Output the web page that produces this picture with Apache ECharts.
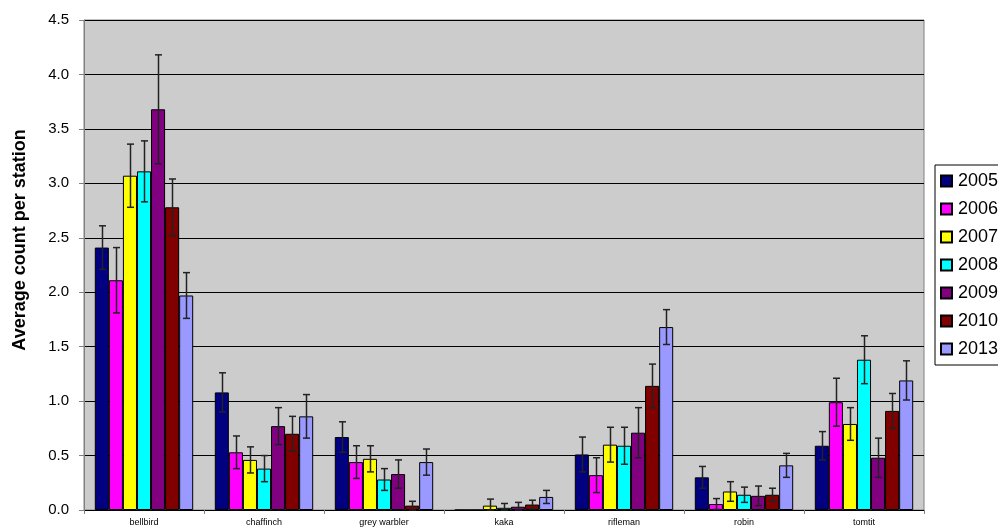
<!DOCTYPE html>
<html>
<head>
<meta charset="utf-8">
<script src="https://cdn.jsdelivr.net/npm/echarts@6/dist/echarts.min.js"></script>
<style>
  html, body { margin: 0; padding: 0; background: #fff; }
  #chart { width: 998px; height: 532px; }
</style>
</head>
<body>
<div id="chart"></div>
<script>
var species = ["bellbird", "chaffinch", "grey warbler", "kaka", "rifleman", "robin", "tomtit"];
var years = ["2005", "2006", "2007", "2008", "2009", "2010", "2013"];
var colors = ["#000080", "#FF00FF", "#FFFF00", "#00FFFF", "#800080", "#800000", "#9999FF"];

// mean count per station, one array per year (order follows species)
var y2005 = [2.41, 1.08, 0.67, 0.00, 0.51, 0.30, 0.59];
var y2006 = [2.11, 0.53, 0.44, 0.00, 0.32, 0.055, 0.99];
var y2007 = [3.07, 0.46, 0.47, 0.04, 0.60, 0.17, 0.79];
var y2008 = [3.11, 0.38, 0.28, 0.02, 0.59, 0.14, 1.38];
var y2009 = [3.68, 0.77, 0.33, 0.03, 0.71, 0.13, 0.48];
var y2010 = [2.78, 0.70, 0.04, 0.05, 1.14, 0.14, 0.91];
var y2013 = [1.97, 0.86, 0.44, 0.12, 1.68, 0.41, 1.19];

// error bar half-widths
var e2005 = [0.20, 0.18, 0.14, 0.00, 0.16, 0.10, 0.13];
var e2006 = [0.30, 0.15, 0.15, 0.00, 0.16, 0.05, 0.22];
var e2007 = [0.29, 0.12, 0.12, 0.06, 0.16, 0.09, 0.15];
var e2008 = [0.28, 0.12, 0.10, 0.04, 0.17, 0.07, 0.22];
var e2009 = [0.50, 0.17, 0.13, 0.04, 0.23, 0.09, 0.18];
var e2010 = [0.26, 0.16, 0.04, 0.04, 0.20, 0.06, 0.16];
var e2013 = [0.21, 0.20, 0.12, 0.06, 0.16, 0.11, 0.18];

var yTicks = ["0.0", "0.5", "1.0", "1.5", "2.0", "2.5", "3.0", "3.5", "4.0", "4.5"];

var means = [y2005, y2006, y2007, y2008, y2009, y2010, y2013];
var errs = [e2005, e2006, e2007, e2008, e2009, e2010, e2013];

var gapRatio = 0.18;
var errData = [];
means.forEach(function (arr, yi) {
  arr.forEach(function (v, ci) {
    errData.push([ci, yi, v, errs[yi][ci]]);
  });
});

var series = years.map(function (y, i) {
  return {
    name: y,
    type: "bar",
    data: means[i],
    barGap: "0%",
    barCategoryGap: gapRatio * 100 + "%",
    itemStyle: { color: colors[i], borderColor: "#000", borderWidth: 1 },
  };
});

series.push({
  name: "errors",
  type: "custom",
  data: errData,
  z: 10,
  renderItem: function (params, api) {
    var ci = api.value(0);
    var yi = api.value(1);
    var v = api.value(2);
    var e = api.value(3);
    if (e <= 0) return;
    var band = api.size([1, 0])[0];
    var groupW = band * (1 - gapRatio);
    var barW = groupW / years.length;
    var center = api.coord([ci, v]);
    var x = Math.round(center[0] - groupW / 2 + barW * (yi + 0.5)) + 0.5;
    var top = api.coord([ci, v + e])[1];
    var bot = api.coord([ci, Math.max(v - e, 0)])[1];
    var cap = 3.5;
    var st = { stroke: "#222", lineWidth: 1.5 };
    return {
      type: "group",
      children: [
        { type: "line", shape: { x1: x, y1: top, x2: x, y2: bot }, style: st },
        { type: "line", shape: { x1: x - cap, y1: top, x2: x + cap, y2: top }, style: st },
        { type: "line", shape: { x1: x - cap, y1: bot, x2: x + cap, y2: bot }, style: st },
      ],
    };
  },
});

var myChart = echarts.init(document.getElementById("chart"));

var option = {
  animation: false,
  textStyle: { fontFamily: "Liberation Sans, Arial, sans-serif" },
  grid: {
    left: 84,
    right: 74,
    top: 20,
    bottom: 22,
    show: true,
    backgroundColor: "#CCCCCC",
    borderColor: "#808080",
    borderWidth: 1,
  },
  legend: {
    data: years,
    orient: "vertical",
    left: 935,
    top: 165,
    icon: "rect",
    itemWidth: 11,
    itemHeight: 11,
    itemGap: 10,
    padding: [7, 4, 7, 5],
    borderColor: "#000",
    borderWidth: 1,
    backgroundColor: "#fff",
    textStyle: { fontSize: 18, color: "#000", padding: [0, 0, 0, 1] },
  },
  xAxis: {
    type: "category",
    data: species,
    axisLine: { lineStyle: { color: "#000" } },
    axisTick: { show: true, length: 4, lineStyle: { color: "#808080" } },
    axisLabel: { fontSize: 9, color: "#000", margin: 8 },
  },
  yAxis: {
    type: "value",
    min: 0,
    max: 4.5,
    interval: 0.5,
    name: "Average count per station",
    nameLocation: "middle",
    nameGap: 55,
    nameTextStyle: { fontSize: 18, fontWeight: "bold", color: "#000", padding: [0, 0, 0, 50] },
    axisLine: { show: true, lineStyle: { color: "#808080" } },
    axisTick: { show: true, length: 5, lineStyle: { color: "#808080" } },
    axisLabel: {
      fontSize: 15,
      color: "#000",
      margin: 15,
      formatter: function (v) { return yTicks[Math.round(v / 0.5)]; },
    },
    splitLine: { lineStyle: { color: "#000", width: 1 } },
  },
  series: series,
};

myChart.setOption(option);
</script>
</body>
</html>
